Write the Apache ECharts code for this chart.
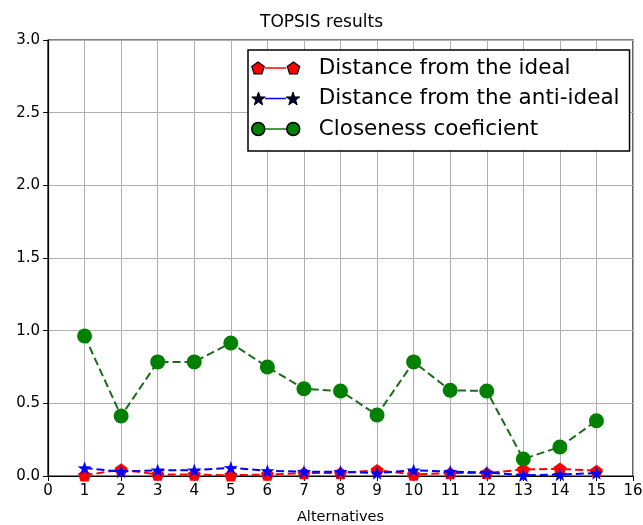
<!DOCTYPE html>
<html>
<head>
<meta charset="utf-8">
<script src="https://cdn.jsdelivr.net/npm/echarts@6/dist/echarts.min.js"></script>
<style>
  html, body { margin: 0; padding: 0; background: #fff; }
  #chart { width: 643px; height: 525px; }
</style>
</head>
<body>
<div id="chart"></div>
<script>
// alternatives 1..15
const alternatives = [1, 2, 3, 4, 5, 6, 7, 8, 9, 10, 11, 12, 13, 14, 15];
const distIdeal = [0.005, 0.045, 0.01, 0.01, 0.005, 0.01, 0.02, 0.02, 0.04, 0.01, 0.02, 0.02, 0.045, 0.05, 0.035];
const distAntiIdeal = [0.055, 0.03, 0.04, 0.04, 0.057, 0.035, 0.03, 0.03, 0.02, 0.04, 0.03, 0.025, 0.005, 0.01, 0.02];
const closeness = [0.963, 0.413, 0.785, 0.785, 0.915, 0.75, 0.60, 0.585, 0.42, 0.785, 0.59, 0.585, 0.117, 0.20, 0.38];
const seriesNames = ['Distance from the ideal', 'Distance from the anti-ideal', 'Closeness coeficient'];

const pentagon = 'path://M0,-10L9.51,-3.09L5.88,8.09L-5.88,8.09L-9.51,-3.09Z';
const star = 'path://M0,-10L2.35,-3.24L9.51,-3.09L3.8,1.24L5.88,8.09L0,4L-5.88,8.09L-3.8,1.24L-9.51,-3.09L-2.35,-3.24Z';

// legend icons: two markers side by side (matplotlib style, numpoints = 2)
const legPentagon = 'path://M6.5,0.5L12.68,4.99L10.32,12.26L2.68,12.26L0.32,4.99Z' +
  'M41.5,0.5L47.68,4.99L45.32,12.26L37.68,12.26L35.32,4.99Z';
const legStar = 'path://M7,0L8.65,4.73L13.66,4.84L9.66,7.87L11.11,12.66L7,9.8L2.89,12.66L4.34,7.87L0.34,4.84L5.35,4.73Z' +
  'M41,0L42.65,4.73L47.66,4.84L43.66,7.87L45.11,12.66L41,9.8L36.89,12.66L38.34,7.87L34.34,4.84L39.35,4.73Z';
const legCircle = 'path://M0,6.5A6.5,6.5 0 1,0 13,6.5A6.5,6.5 0 1,0 0,6.5Z' +
  'M35,6.5A6.5,6.5 0 1,0 48,6.5A6.5,6.5 0 1,0 35,6.5Z';

const pairs = arr => alternatives.map((x, i) => [x, arr[i]]);
const font = 'DejaVu Sans';

const chart = echarts.init(document.getElementById('chart'));

// short connecting line between the two legend markers
const legLine = (y, color) => ({
  type: 'line',
  z: 200,
  shape: { x1: 265, y1: y, x2: 286, y2: y },
  style: { stroke: color, lineWidth: 1.5 }
});

chart.setOption({
  animation: false,
  backgroundColor: '#fff',
  title: {
    text: 'TOPSIS results',
    left: 'center',
    top: 9,
    textStyle: { fontFamily: font, fontSize: 17, fontWeight: 'normal', color: '#000' }
  },
  grid: {
    left: 48, right: 10, top: 40, bottom: 49,
    outerBoundsMode: 'none',
    show: true, borderColor: '#000', borderWidth: 1.2, backgroundColor: 'transparent'
  },
  legend: {
    orient: 'vertical',
    left: 248,
    top: 50,
    padding: [6, 10, 10, 3],
    itemGap: 6.5,
    itemWidth: 48,
    itemHeight: 13,
    backgroundColor: '#fff',
    borderColor: '#000',
    borderWidth: 1.5,
    borderRadius: 0,
    textStyle: { fontFamily: font, fontSize: 21.5, lineHeight: 24, color: '#000', padding: [0, 0, 0, 14] },
    data: [
      { name: seriesNames[0], icon: legPentagon, itemStyle: { color: '#ff0000', borderColor: '#000', borderWidth: 1.2 } },
      { name: seriesNames[1], icon: legStar, itemStyle: { color: '#000033', borderColor: '#000', borderWidth: 1 } },
      { name: seriesNames[2], icon: legCircle, itemStyle: { color: '#008000', borderColor: '#000', borderWidth: 1.5 } }
    ]
  },
  graphic: [
    legLine(68, '#ff0000'),
    legLine(98.5, '#0000ff'),
    legLine(129, '#008000')
  ],
  xAxis: {
    type: 'value',
    min: 0, max: 16, interval: 1,
    name: 'Alternatives',
    nameLocation: 'middle',
    nameGap: 34,
    nameTextStyle: { fontFamily: font, fontSize: 14.5, color: '#000' },
    axisLine: { lineStyle: { color: '#000', width: 1.2 } },
    axisTick: { show: true, length: 5, lineStyle: { color: '#000' } },
    axisLabel: { fontFamily: font, fontSize: 15, color: '#000', margin: 8 },
    splitLine: { show: true, lineStyle: { color: '#b0b0b0', width: 1 } }
  },
  yAxis: {
    type: 'value',
    min: 0, max: 3, interval: 0.5,
    axisLine: { show: true, lineStyle: { color: '#000', width: 1.2 } },
    axisTick: { show: true, length: 5, lineStyle: { color: '#000' } },
    axisLabel: { fontFamily: font, fontSize: 15, color: '#000', margin: 8, formatter: v => v.toFixed(1) },
    splitLine: { show: true, lineStyle: { color: '#b0b0b0', width: 1 } }
  },
  series: [
    {
      name: seriesNames[0],
      type: 'line',
      data: pairs(distIdeal),
      symbol: pentagon,
      symbolSize: 13,
      symbolKeepAspect: true,
      itemStyle: { color: '#ff0000' },
      lineStyle: { color: '#ff0000', type: [8, 4], width: 2 },
      z: 2
    },
    {
      name: seriesNames[1],
      type: 'line',
      data: pairs(distAntiIdeal),
      symbol: star,
      symbolSize: 14,
      symbolKeepAspect: true,
      itemStyle: { color: '#0000ff' },
      lineStyle: { color: '#0000ff', type: [8, 4], width: 2 },
      z: 3
    },
    {
      name: seriesNames[2],
      type: 'line',
      data: pairs(closeness),
      symbol: 'circle',
      symbolSize: 15,
      itemStyle: { color: '#008000' },
      lineStyle: { color: '#1a6b1a', type: [8, 4], width: 2 },
      z: 4
    }
  ]
});
</script>
</body>
</html>
